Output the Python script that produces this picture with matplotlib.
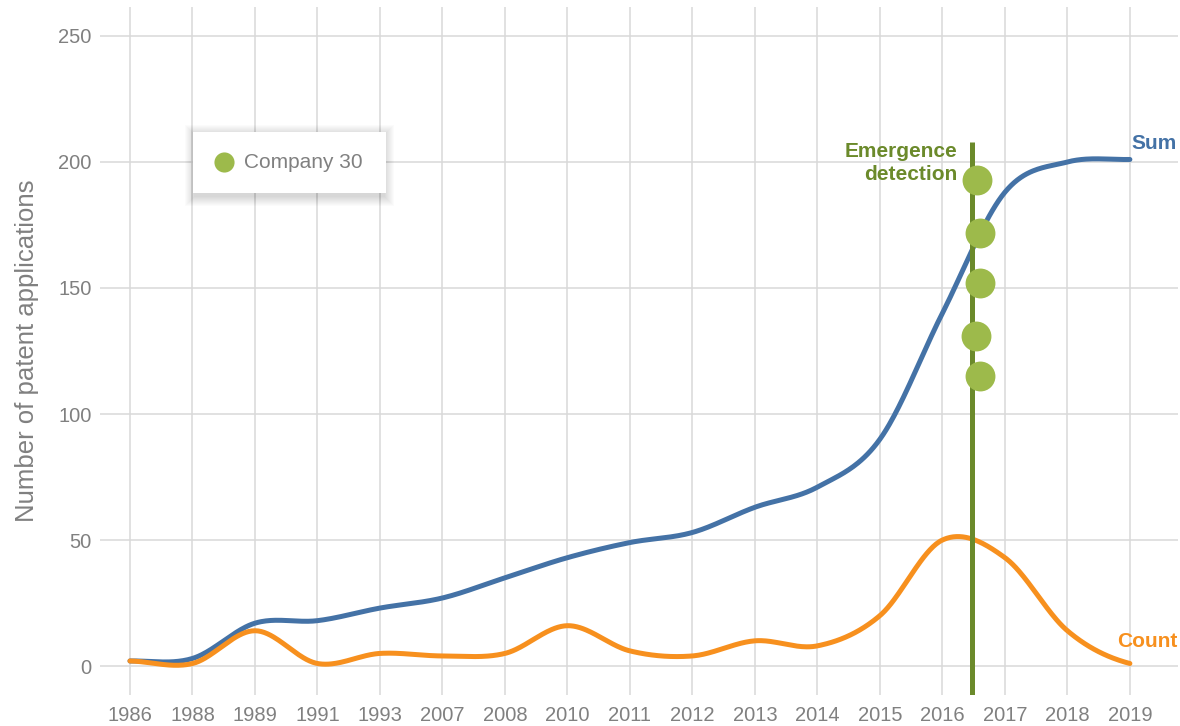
import numpy as np
import matplotlib
matplotlib.use("Agg")
import matplotlib.pyplot as plt
from matplotlib.patches import FancyBboxPatch, Rectangle
from matplotlib.lines import Line2D

plt.rcParams['font.family'] = ['Liberation Sans', 'DejaVu Sans']

years = ['1986', '1988', '1989', '1991', '1993', '2007', '2008', '2010', '2011',
         '2012', '2013', '2014', '2015', '2016', '2017', '2018', '2019']
sum_vals = [2, 3, 17, 18, 23, 27, 35, 43, 49, 53, 63, 71, 90, 140, 188, 200, 201]
count_vals = [2, 1, 14, 1, 5, 4, 5, 16, 6, 4, 10, 8, 20, 50, 43, 14, 1]

# emergence marker (position between 2016 and 2017, in category units)
emergence_x = 13.47
emergence_top = 208
company_x = [13.55, 13.6, 13.6, 13.53, 13.6]
company_y = [193, 172, 152, 131, 115]

BLUE = '#4472a6'
ORANGE = '#f7901e'
OLIVE = '#6b8a2b'
LGREEN = '#9dba4b'
GRAY = '#808080'
GRID = '#d9d9d9'


def cardinal(y, n=40):
    # uniform Catmull-Rom through the points, endpoints duplicated
    y = np.asarray(y, dtype=float)
    p = np.concatenate([[y[0]], y, [y[-1]]])
    xs, ys = [], []
    t = np.linspace(0, 1, n, endpoint=False)
    h00 = 2 * t**3 - 3 * t**2 + 1
    h10 = t**3 - 2 * t**2 + t
    h01 = -2 * t**3 + 3 * t**2
    h11 = t**3 - t**2
    for i in range(len(y) - 1):
        m0 = (p[i + 2] - p[i]) / 2
        m1 = (p[i + 3] - p[i + 1]) / 2
        xs.append(i + t)
        ys.append(h00 * y[i] + h10 * m0 + h01 * y[i + 1] + h11 * m1)
    xs.append([len(y) - 1])
    ys.append([y[-1]])
    return np.concatenate(xs), np.concatenate(ys)


fig = plt.figure(figsize=(11.8, 7.26), dpi=100)
ax = fig.add_axes([100 / 1180, 1 - 695 / 726, 1078 / 1180, 688 / 726])

x = np.arange(len(years))
ax.set_xlim(-0.48, 16.77)
ax.set_ylim(-11.5, 261.5)

for s in ax.spines.values():
    s.set_visible(False)
ax.set_xticks(x)
ax.set_xticklabels(years)
ax.set_yticks([0, 50, 100, 150, 200, 250])
ax.tick_params(length=0, labelsize=14.5, labelcolor=GRAY)
ax.tick_params(axis='x', pad=8)
ax.tick_params(axis='y', pad=6)
ax.grid(True, color=GRID, linewidth=1.1)
ax.set_axisbelow(True)
ax.set_ylabel('Number of patent applications', fontsize=18.5, color=GRAY, labelpad=14)

sx, sy = cardinal(sum_vals)
cx, cy = cardinal(count_vals)
ax.plot(sx, sy, color=BLUE, linewidth=3.6, solid_capstyle='round', zorder=3)
ax.plot(cx, cy, color=ORANGE, linewidth=3.6, solid_capstyle='round', zorder=3)

ax.vlines(emergence_x, -11.5, emergence_top, color=OLIVE, linewidth=3.6, zorder=4)
ax.plot(company_x, company_y, 'o', color=LGREEN, markersize=21.5,
        markeredgewidth=0, zorder=5)

ax.annotate('Emergence\ndetection', (emergence_x, emergence_top),
            xytext=(-10.5, 0), textcoords='offset points', ha='right', va='top',
            fontsize=15, fontweight='bold', color=OLIVE, linespacing=1.25)
ax.annotate('Sum', (x[-1], sum_vals[-1]), xytext=(1.0, 11.5),
            textcoords='offset points', ha='left', va='center',
            fontsize=15, fontweight='bold', color=BLUE)
ax.annotate('Count', (x[-1], count_vals[-1]), xytext=(-9.5, 15.5),
            textcoords='offset points', ha='left', va='center',
            fontsize=15, fontweight='bold', color=ORANGE)

# legend box with soft shadow
bx, by, bw, bh = 193, 132, 193, 61
for k in range(10, 0, -1):
    fig.patches.append(FancyBboxPatch(
        ((bx - k + 2) / 1180, 1 - (by + bh + k + 3) / 726),
        (bw + 2 * k - 4) / 1180, (bh + 2 * k) / 726,
        boxstyle='round,pad=0', transform=fig.transFigure,
        facecolor='black', edgecolor='none', alpha=0.014, zorder=1))
fig.patches.append(Rectangle((bx / 1180, 1 - (by + bh) / 726), bw / 1180, bh / 726,
                             transform=fig.transFigure, facecolor='white',
                             edgecolor='none', zorder=2))
fig.add_artist(Line2D([224 / 1180], [1 - 162 / 726], marker='o', color=LGREEN,
                      markersize=14.5, markeredgewidth=0, transform=fig.transFigure,
                      zorder=3))
fig.text(244 / 1180, 1 - 163 / 726, 'Company 30', fontsize=15, color=GRAY,
         va='center', ha='left', zorder=3)

fig.savefig('out.png', dpi=100)
